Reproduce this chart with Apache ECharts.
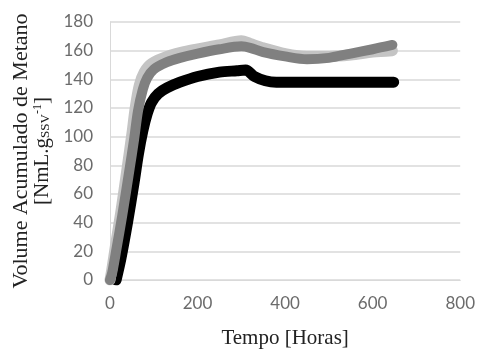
<!DOCTYPE html>
<html>
<head>
<meta charset="utf-8">
<script src="https://cdn.jsdelivr.net/npm/echarts@6/dist/echarts.min.js"></script>
<style>html,body{margin:0;padding:0;background:#fff}#c{width:478px;height:354px}</style>
</head>
<body>
<div id="c"></div>
<script>
// Data
var xTicks = [0, 200, 400, 600, 800];
var yTicks = [0, 20, 40, 60, 80, 100, 120, 140, 160, 180];

var blackT = [14, 25, 40, 55, 65, 75, 85, 95, 110, 130, 160, 200, 250, 290, 310, 330, 355, 380, 450, 550, 648];
var blackV = [0, 15, 40, 68, 88, 104, 116, 124, 130, 134, 138, 142, 145, 146, 146.5, 142, 139, 138, 138, 138, 138];

var lightT = [0, 4, 13, 25, 40, 50, 58, 67, 78, 95, 130, 180, 250, 300, 320, 350, 400, 450, 500, 550, 600, 645];
var lightV = [0, 7, 25, 48, 80, 102, 121, 136, 145, 151, 156, 160, 164, 167, 165, 162, 158, 156, 156, 157, 159, 160];

var darkT = [0, 5, 15, 28, 45, 55, 64, 75, 85, 100, 130, 160, 200, 250, 300, 320, 350, 400, 450, 500, 550, 600, 645];
var darkV = [0, 5, 22, 45, 78, 98, 118, 133, 141, 147, 152, 155, 158, 161, 163, 162, 159, 156, 154, 155, 158, 161, 164];

function pairs(t, v) { return t.map(function (x, i) { return [x, v[i]]; }); }

var chart = echarts.init(document.getElementById('c'), null, {renderer: 'canvas'});
var serif = 'Liberation Serif';
var grid = '#d9d9d9';
chart.setOption({
  animation: false,
  grid: {left: 110, right: 16, top: 22, bottom: 72},
  xAxis: {
    type: 'value', min: xTicks[0], max: xTicks[xTicks.length - 1], interval: 200,
    name: 'Tempo [Horas]', nameLocation: 'middle', nameGap: 48,
    nameTextStyle: {fontFamily: serif, fontSize: 21, color: '#222'},
    axisLine: {show: true, lineStyle: {color: grid, width: 1}},
    axisTick: {show: false},
    splitLine: {show: false},
    axisLabel: {fontFamily: 'Lato', fontSize: 17, color: '#6b6b6b', margin: 15}
  },
  yAxis: {
    type: 'value', min: yTicks[0], max: yTicks[yTicks.length - 1], interval: 20,
    name: '{a|Volume Acumulado de Metano}\n{b|[NmL.g}{s|SSV}{p|-1}{b|]}',
    nameLocation: 'middle', nameRotate: 90, nameGap: 51,
    nameTextStyle: {
      fontFamily: serif, color: '#222', align: 'center',
      rich: {
        a: {fontFamily: serif, fontSize: 22, lineHeight: 21, color: '#222'},
        b: {fontFamily: serif, fontSize: 21, lineHeight: 21, color: '#222'},
        s: {fontFamily: serif, fontSize: 13, lineHeight: 13, color: '#222', verticalAlign: 'bottom'},
        p: {fontFamily: serif, fontSize: 12, lineHeight: 12, color: '#222', verticalAlign: 'top'}
      }
    },
    axisLine: {show: true, lineStyle: {color: grid, width: 1}},
    axisTick: {show: false},
    splitLine: {show: true, lineStyle: {color: grid, width: 1.5}},
    axisLabel: {fontFamily: 'Lato', fontSize: 17, color: '#6b6b6b', margin: 17}
  },
  series: [
    {type: 'line', data: pairs(blackT, blackV), showSymbol: false, smooth: 0.3,
     lineStyle: {color: '#000', width: 11, cap: 'round', join: 'round'}},
    {type: 'line', data: pairs(lightT, lightV), showSymbol: false, smooth: 0.3,
     lineStyle: {color: '#c4c4c4', width: 11, cap: 'round', join: 'round'}},
    {type: 'line', data: pairs(darkT, darkV), showSymbol: false, smooth: 0.3,
     lineStyle: {color: '#808080', width: 10, cap: 'round', join: 'round'}}
  ]
});
</script>
</body>
</html>
